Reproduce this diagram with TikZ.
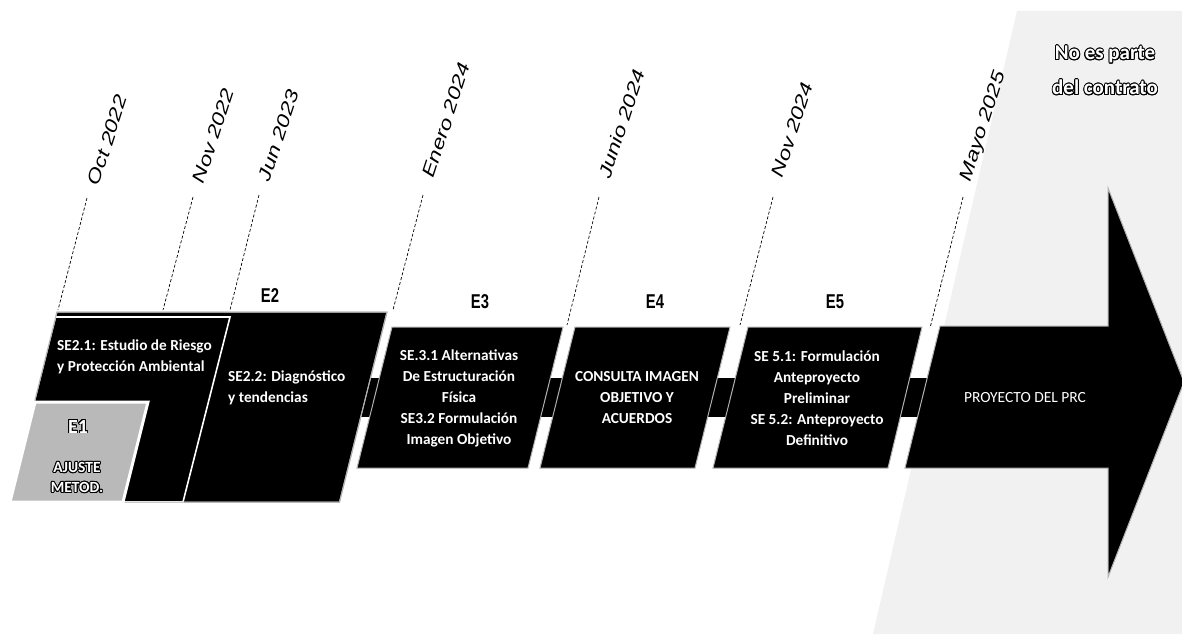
\documentclass[tikz,border=0pt]{standalone}
\usepackage{fontspec}
\setmainfont{Carlito}
\newfontfamily\datefont{Liberation Sans}
\newfontfamily\stagefont{Liberation Sans}
\usepackage{contour}
\contourlength{0.9pt}
\begin{document}
\begin{tikzpicture}[x=1pt,y=-1pt,
  box/.style={fill=black, draw=gray!60, line width=1pt},
  subbox/.style={fill=black, draw=white, line width=1.6pt},
  boxtext/.style={text=white, font=\bfseries\fontsize{15.3}{21}\selectfont, align=center, inner sep=0pt},
  stagelabel/.style={font=\stagefont\bfseries\fontsize{20}{20}\selectfont, xscale=0.74, inner sep=0pt},
  datelabel/.style={font=\datefont\itshape\fontsize{18}{20}\selectfont, rotate=72, xscale=1.28, anchor=west, inner sep=0pt},
  dateline/.style={line width=0.7pt, dash pattern=on 3pt off 2pt},
  outlined/.style={text=white, inner sep=0pt, align=center}
]
\useasboundingbox (0,0) rectangle (1182,634);
\fill[white] (0,0) rectangle (1182,634);

% region outside the contract
\fill[gray!11] (1017,11) -- (1182,11) -- (1182,634) -- (873,634) -- cycle;
\node[outlined, font=\bfseries\fontsize{21}{35}\selectfont] (noparte) at (1105,71)
  {\contour{black}{No es parte}\\\contour{black}{del contrato}};

% central bar
\fill[black] (360,378) rectangle (932,417);

% E2 block
\draw[box] (57,312) -- (387,312) -- (339.5,502) -- (9.5,502) -- cycle;
\draw[subbox] (55.5,317) -- (230,317) -- (183,502) -- (9,502) -- cycle;
\draw[gray!60, line width=1pt] (57,312) -- (387,312) -- (339.5,502) -- (9.5,502) -- cycle;
% E1 block
\draw[fill=gray!55, draw=white, line width=3pt] (35,402) -- (148,402) -- (123,502) -- (10,502) -- cycle;

% E3, E4, E5
\draw[box] (392,327) -- (563,327) -- (528,468) -- (357,468) -- cycle;
\draw[box] (575,327) -- (730,327) -- (695,468) -- (540,468) -- cycle;
\draw[box] (748,327) -- (922,327) -- (888,468) -- (713,468) -- cycle;

% final arrow
\draw[box] (940,326) -- (1108,326) -- (1108,188) -- (1184,382) -- (1108,577) -- (1108,468) -- (905,468) -- cycle;

% stage labels
\node[stagelabel] (e2) at (270,296) {E2};
\node[stagelabel] (e3) at (480,302) {E3};
\node[stagelabel] (e4) at (655,302) {E4};
\node[stagelabel] (e5) at (835,302) {E5};

% box texts
\node[boxtext, align=left, anchor=west] (se21) at (57,357) {SE2.1: Estudio de Riesgo\\y Protección Ambiental};
\node[boxtext, align=left, anchor=west] (se22) at (228,388) {SE2.2: Diagnóstico\\y tendencias};
\node[boxtext] (se3) at (459,398) {SE.3.1 Alternativas\\De Estructuración\\Física\\SE3.2 Formulación\\Imagen Objetivo};
\node[boxtext] (se4) at (637,398) {CONSULTA IMAGEN\\OBJETIVO Y\\ACUERDOS};
\node[boxtext] (se5) at (817,398) {SE 5.1: Formulación\\Anteproyecto\\Preliminar\\SE 5.2: Anteproyecto\\Definitivo};
\node[boxtext, font=\fontsize{15.5}{21}\selectfont] (prc) at (1025,398) {PROYECTO DEL PRC};

\node[outlined, font=\bfseries\fontsize{20}{20}\selectfont] (e1) at (78,427) {\contour{black}{E1}};
\node[outlined, font=\bfseries\fontsize{15.5}{20}\selectfont] (ajuste) at (77,478) {\contour{black}{AJUSTE}\\\contour{black}{METOD.}};

% date markers
\coordinate (octT) at (87,198);   \coordinate (octB) at (58,310);
\coordinate (nov22T) at (193,197); \coordinate (nov22B) at (163,310);
\coordinate (junT) at (259,195);  \coordinate (junB) at (230,310);
\coordinate (eneT) at (423,195);  \coordinate (eneB) at (393,310);
\coordinate (junioT) at (599,197); \coordinate (junioB) at (567,325);
\coordinate (nov24T) at (773,197); \coordinate (nov24B) at (740,325);
\coordinate (mayoT) at (963,197); \coordinate (mayoB) at (930,328);

\draw[dateline] (octT) -- (octB);
\draw[dateline] (nov22T) -- (nov22B);
\draw[dateline] (junT) -- (junB);
\draw[dateline] (eneT) -- (eneB);
\draw[dateline] (junioT) -- (junioB);
\draw[dateline] (nov24T) -- (nov24B);
\draw[dateline] (mayoT) -- (mayoB);

\node[datelabel] (oct) at (93,185) {Oct 2022};
\node[datelabel] (nov22) at (198,183) {Nov 2022};
\node[datelabel] (jun) at (264,181) {Jun 2023};
\node[datelabel] (ene) at (428,177) {Enero 2024};
\node[datelabel] (junio) at (604,178) {Junio 2024};
\node[datelabel] (nov24) at (777,177) {Nov 2024};
\node[datelabel] (mayo) at (966,181) {Mayo 2025};
\end{tikzpicture}
\end{document}
